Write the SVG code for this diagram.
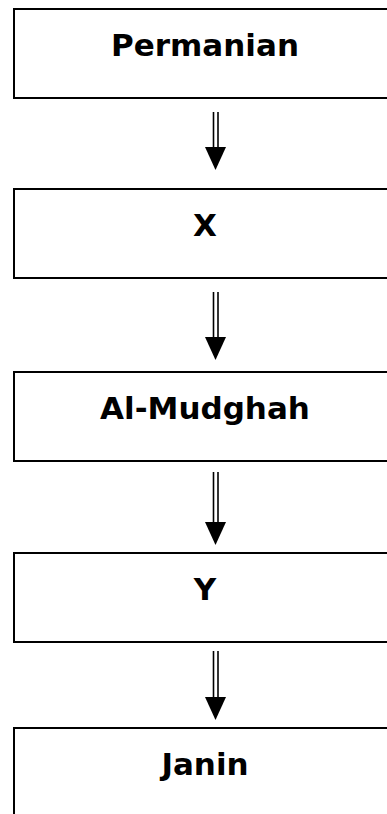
<svg xmlns="http://www.w3.org/2000/svg" width="387" height="814" viewBox="0 0 387 814">
<style>
.box{fill:#fff;stroke:#000;stroke-width:2}
.lbl{font-family:"DejaVu Sans",Verdana,sans-serif;font-weight:bold;font-size:31px;fill:#000;text-anchor:middle}
.shaft{stroke:#000;stroke-width:1.6;fill:none}
.head{fill:#000}
</style>
<rect width="387" height="814" fill="#fff"/>
<g id="connectors">
<g id="a1"><line class="shaft" x1="213.5" y1="112" x2="213.5" y2="148"/><line class="shaft" x1="218" y1="112" x2="218" y2="148"/><polygon class="head" points="205,147 226,147 215.5,170"/></g>
<g id="a2"><line class="shaft" x1="213.5" y1="292" x2="213.5" y2="338"/><line class="shaft" x1="218" y1="292" x2="218" y2="338"/><polygon class="head" points="205,337 226,337 215.5,360"/></g>
<g id="a3"><line class="shaft" x1="213.5" y1="472" x2="213.5" y2="523"/><line class="shaft" x1="218" y1="472" x2="218" y2="523"/><polygon class="head" points="205,522 226,522 215.5,545"/></g>
<g id="a4"><line class="shaft" x1="213.5" y1="651" x2="213.5" y2="698"/><line class="shaft" x1="218" y1="651" x2="218" y2="698"/><polygon class="head" points="205,697 226,697 215.5,720"/></g>
</g>
<g id="n1"><rect class="box" x="14" y="9" width="400" height="89"/><text class="lbl" x="205" y="56">Permanian</text></g>
<g id="n2"><rect class="box" x="14" y="189" width="400" height="89"/><text class="lbl" x="205" y="236">X</text></g>
<g id="n3"><rect class="box" x="14" y="372" width="400" height="89"/><text class="lbl" x="205" y="419">Al-Mudghah</text></g>
<g id="n4"><rect class="box" x="14" y="553" width="400" height="89"/><text class="lbl" x="205" y="600">Y</text></g>
<g id="n5"><rect class="box" x="14" y="728" width="400" height="120"/><text class="lbl" x="205" y="775">Janin</text></g>
</svg>
